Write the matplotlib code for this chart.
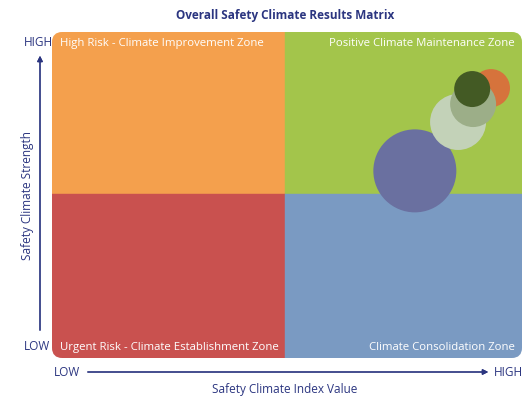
import matplotlib.pyplot as plt
from matplotlib.patches import Rectangle, FancyBboxPatch

plt.rcParams['font.family'] = ['Open Sans', 'DejaVu Sans']

title = "Overall Safety Climate Results Matrix"
x_label = "Safety Climate Index Value"
y_label = "Safety Climate Strength"
zones = ["High Risk - Climate Improvement Zone", "Positive Climate Maintenance Zone",
         "Urgent Risk - Climate Establishment Zone", "Climate Consolidation Zone"]
zone_colors = ["#F4A04D", "#A3C54B", "#C9514F", "#7A9AC2"]

# bubbles (index value, strength, radius in px), drawn in this order
bubble_x = [77.2, 86.4, 93.4, 89.6, 89.4]
bubble_y = [57.4, 72.4, 82.8, 77.9, 82.5]
bubble_r = [41.5, 28, 19, 23, 18]
bubble_colors = ["#6A70A0", "#C3D2B8", "#D6733C", "#9CAE88", "#435A24"]

navy = "#2B3580"

fig = plt.figure(figsize=(5.31, 4.0), dpi=100)
ax = fig.add_axes([52 / 531, 42 / 400, 470 / 531, 326 / 400])
ax.set_xlim(0, 100)
ax.set_ylim(0, 100)
ax.axis('off')

# rounded outline used to clip the four zones
clip = FancyBboxPatch((0, 0), 100, 100, boxstyle="round,pad=0,rounding_size=2.2",
                      transform=ax.transData, facecolor='none', edgecolor='none',
                      mutation_aspect=470 / 326)
ax.add_patch(clip)
xsplit, ysplit = 49.6, 50.3
rects = [(0, ysplit, xsplit, 100 - ysplit), (xsplit, ysplit, 100 - xsplit, 100 - ysplit),
         (0, 0, xsplit, ysplit), (xsplit, 0, 100 - xsplit, ysplit)]
for (x0, y0, w, h), c in zip(rects, zone_colors):
    r = Rectangle((x0, y0), w, h, facecolor=c, edgecolor=c, lw=0.3)
    ax.add_patch(r)
    r.set_clip_path(clip)

ax.text(1.7, 96.5, zones[0], color='white', fontsize=8.2, va='center', ha='left')
ax.text(98.5, 96.5, zones[1], color='white', fontsize=8.2, va='center', ha='right')
ax.text(1.7, 3.2, zones[2], color='white', fontsize=8.2, va='center', ha='left')
ax.text(98.5, 3.2, zones[3], color='white', fontsize=8.2, va='center', ha='right')

for x, y, r, c in zip(bubble_x, bubble_y, bubble_r, bubble_colors):
    ax.scatter(x, y, s=(2 * r * 0.72) ** 2, color=c, edgecolors='none', zorder=3)

fig.text(285 / 531, 1 - 16 / 400, title, color=navy, fontsize=8.5, fontweight='bold',
         ha='center', va='center')
fig.text(38 / 531, 1 - 42 / 400, "HIGH", color=navy, fontsize=8.5, ha='center', va='center')
fig.text(37 / 531, 1 - 347 / 400, "LOW", color=navy, fontsize=8.5, ha='center', va='center')
fig.text(28 / 531, 1 - 195 / 400, y_label, color=navy, fontsize=8.5, rotation=90,
         ha='center', va='center')
fig.text(67 / 531, 1 - 372 / 400, "LOW", color=navy, fontsize=8.5, ha='center', va='center')
fig.text(508 / 531, 1 - 372 / 400, "HIGH", color=navy, fontsize=8.5, ha='center', va='center')
fig.text(285 / 531, 1 - 390 / 400, x_label, color=navy, fontsize=8.5, ha='center', va='center')

# axis arrows
fig.add_artist(plt.annotate('', xy=(40 / 531, 1 - 53 / 400), xytext=(40 / 531, 1 - 333 / 400),
                            xycoords='figure fraction',
                            arrowprops=dict(arrowstyle='-|>', color=navy, lw=0.9,
                                            mutation_scale=8)))
fig.add_artist(plt.annotate('', xy=(491 / 531, 1 - 372 / 400), xytext=(85 / 531, 1 - 372 / 400),
                            xycoords='figure fraction',
                            arrowprops=dict(arrowstyle='-|>', color=navy, lw=0.9,
                                            mutation_scale=8)))

fig.savefig("out.png", dpi=100)
